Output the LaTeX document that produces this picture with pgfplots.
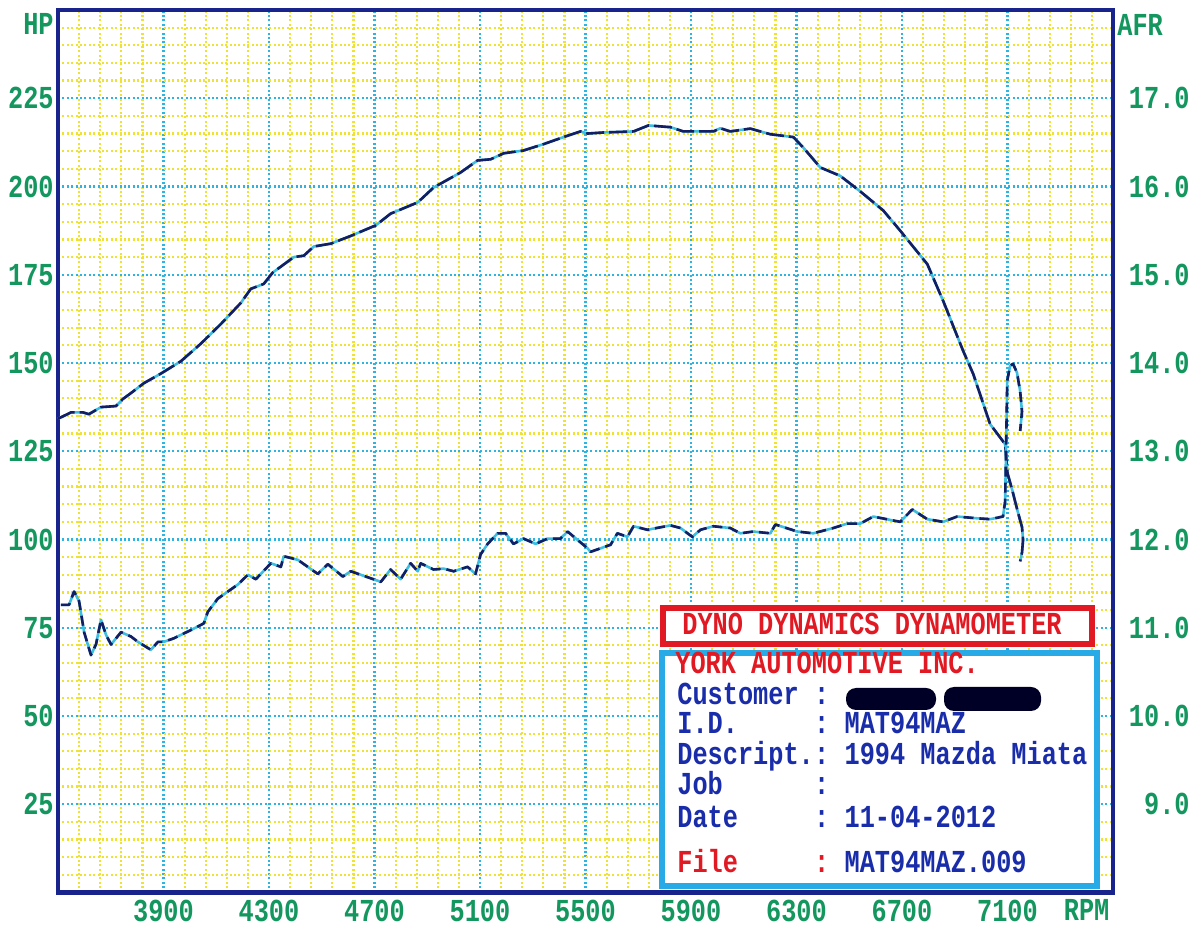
\documentclass[border=0pt]{standalone}
\usepackage{pgfplots}
\usepackage{pgfplotstable}
\pgfplotsset{compat=1.18}
\usepackage{fontspec}
\newfontfamily\dynofont[FakeStretch=0.79]{Liberation Mono}
\newcommand\dyno{\dynofont\bfseries\fontsize{16bp}{19bp}\selectfont}
\definecolor{labgreen}{RGB}{20,150,95}
\definecolor{framenavy}{RGB}{25,35,140}
\definecolor{gridcyan}{RGB}{45,180,225}
\definecolor{gridyellow}{RGB}{240,226,50}
\definecolor{curvenavy}{RGB}{20,30,100}
\definecolor{curvecyan}{RGB}{60,190,225}
\definecolor{boxred}{RGB}{225,25,35}
\definecolor{boxcyan}{RGB}{40,170,230}
\definecolor{textblue}{RGB}{25,45,170}

\pgfplotstableread{
rpm hp
3500 134.2
3549 136.0
3595 136.0
3617 135.5
3663 137.5
3720 137.8
3746 139.8
3777 141.5
3826 144.3
3890 147.0
3966 150.5
4042 155.5
4117 161.0
4193 167.0
4231 171.0
4280 172.4
4314 175.6
4394 180.0
4432 180.4
4470 183.0
4534 183.8
4610 186.0
4705 189.0
4761 192.3
4864 195.5
4924 199.7
5027 204.0
5091 207.4
5140 207.7
5190 209.4
5265 210.2
5341 212.0
5417 214.0
5481 215.6
5508 215.0
5568 215.3
5682 215.6
5739 217.3
5822 216.8
5871 215.6
5985 215.6
6011 216.5
6049 215.6
6125 216.4
6201 214.8
6288 214.0
6326 211.0
6390 205.4
6466 203.0
6542 198.6
6629 193.2
6693 187.5
6796 178.0
6856 167.6
6932 153.4
6970 146.9
7034 132.7
7091 127.0
7100 118.8
7118 114.0
7137 108.4
7155 103.5
7159 99.9
7155 96.3
7148 93.8
}\hpdata

\pgfplotstableread{
rpm afr
3511 11.26
3542 11.26
3561 11.41
3580 11.30
3599 10.95
3625 10.69
3644 10.81
3663 11.09
3682 10.92
3701 10.81
3739 10.95
3777 10.90
3803 10.84
3852 10.75
3879 10.84
3901 10.84
3939 10.88
4015 10.99
4053 11.05
4068 11.18
4106 11.33
4182 11.49
4220 11.60
4250 11.55
4307 11.73
4345 11.69
4356 11.81
4409 11.77
4485 11.61
4523 11.72
4580 11.58
4610 11.64
4724 11.52
4761 11.66
4799 11.55
4837 11.73
4864 11.64
4875 11.73
4924 11.66
4962 11.67
5000 11.64
5053 11.69
5083 11.61
5102 11.83
5129 11.95
5167 12.07
5197 12.07
5227 11.95
5265 12.01
5311 11.95
5356 12.01
5405 12.01
5432 12.09
5508 11.90
5519 11.86
5595 11.94
5621 12.07
5659 12.03
5682 12.15
5735 12.11
5822 12.16
5860 12.13
5905 12.03
5936 12.11
5985 12.15
6049 12.13
6087 12.07
6136 12.09
6201 12.07
6220 12.17
6303 12.09
6364 12.07
6440 12.13
6492 12.18
6542 12.18
6591 12.26
6693 12.20
6739 12.34
6796 12.23
6856 12.20
6909 12.26
6985 12.24
7034 12.23
7083 12.26
7091 12.43
7095 13.10
7099 13.80
7110 13.97
7121 13.99
7136 13.89
7148 13.68
7155 13.45
7148 13.23
}\afrdata

\begin{document}
\begin{tikzpicture}
\begin{axis}[
  at={(0,0)}, anchor=south west,
  scale only axis, width=527.5bp, height=441.25bp,
  xmin=3500, xmax=7500, ymin=0, ymax=250,
  clip=false,
  xtick={3900,4300,4700,5100,5500,5900,6300,6700,7100},
  xticklabels={3900,4300,4700,5100,5500,5900,6300,6700,7100},
  ytick={25,50,75,100,125,150,175,200,225},
  yticklabels={25,50,75,100,125,150,175,200,225},
  minor xtick={3580,3660,...,7420},
  minor ytick={5,10,...,245},
  grid=both,
  minor grid style={draw=gridyellow, line width=1.1bp, dash pattern=on 1bp off 1.2bp},
  major grid style={draw=gridcyan, line width=1.1bp, dash pattern=on 1bp off 1.2bp},
  major tick length=0pt, minor tick length=0pt,
  tick style={draw=none},
  axis line style={draw=framenavy, line width=2.3bp},
  ticklabel style={font=\dyno, text=labgreen, inner sep=0pt},
  yticklabel style={anchor=east, xshift=-2bp},
  xticklabel style={anchor=north, yshift=-3.5bp},
]
\addplot[curvecyan, line width=1.3bp, line join=round] table[x=rpm, y=hp] {\hpdata};
\addplot[curvenavy, line width=1.3bp, line join=round, dash pattern=on 9bp off 2.5bp] table[x=rpm, y=hp] {\hpdata};
\node[anchor=east, inner sep=0pt, xshift=-2bp, font=\dyno, text=labgreen] at (rel axis cs:0,0.9847) {HP};
\node[anchor=west, inner sep=0pt, xshift=2bp, font=\dyno, text=labgreen] at (rel axis cs:1,0.9835) {AFR};
\node[anchor=north, inner sep=0pt, yshift=-3.5bp, font=\dyno, text=labgreen] at (axis cs:7400,0) {RPM};
\end{axis}
\begin{axis}[
  at={(0,0)}, anchor=south west,
  scale only axis, width=527.5bp, height=441.25bp,
  xmin=3500, xmax=7500, ymin=8, ymax=18,
  clip=false,
  axis y line*=right, hide x axis,
  axis line style={draw=none},
  ytick={9,10,11,12,13,14,15,16,17},
  yticklabels={9.0,10.0,11.0,12.0,13.0,14.0,15.0,16.0,17.0},
  major tick length=0pt, tick style={draw=none},
  ticklabel style={font=\dyno, text=labgreen, inner sep=0pt},
  yticklabel style={anchor=east, xshift=38.5bp},
]
\addplot[curvecyan, line width=1.3bp, line join=round] table[x=rpm, y=afr] {\afrdata};
\addplot[curvenavy, line width=1.3bp, line join=round, dash pattern=on 5bp off 3bp] table[x=rpm, y=afr] {\afrdata};
\end{axis}
% info boxes
\draw[boxred, line width=2.8bp, fill=white] (302.5bp,124.25bp) rectangle (517bp,142.25bp);
\node[anchor=base west, inner sep=0pt, font=\dyno, text=boxred] at (312bp,128.75bp) {DYNO DYNAMICS DYNAMOMETER};
\draw[boxcyan, line width=3bp, fill=white] (302bp,3.25bp) rectangle (519.5bp,119.75bp);
\node[anchor=base west, inner sep=0pt, font=\dyno, text=boxred] at (308.5bp,109.25bp) {YORK AUTOMOTIVE INC.};
\foreach \lab/\yy in {Customer/93.75, I.D./79.25, Descript./63.75, Job/48.75, Date/32.75}{
  \node[anchor=base west, inner sep=0pt, font=\dyno, text=textblue] at (309.5bp,\yy bp) {\lab};
  \node[anchor=base west, inner sep=0pt, font=\dyno, text=textblue] at (377.9bp,\yy bp) {:};
}
\node[anchor=base west, inner sep=0pt, font=\dyno, text=boxred] at (309.5bp,10.25bp) {File};
\node[anchor=base west, inner sep=0pt, font=\dyno, text=boxred] at (377.9bp,10.25bp) {:};
\node[anchor=base west, inner sep=0pt, font=\dyno, text=textblue] at (393.1bp,79.25bp) {MAT94MAZ};
\node[anchor=base west, inner sep=0pt, font=\dyno, text=textblue] at (393.1bp,63.75bp) {1994 Mazda Miata};
\node[anchor=base west, inner sep=0pt, font=\dyno, text=textblue] at (393.1bp,32.75bp) {11-04-2012};
\node[anchor=base west, inner sep=0pt, font=\dyno, text=textblue] at (393.1bp,10.25bp) {MAT94MAZ.009};
% redacted customer name
\fill[black!85!blue, rounded corners=5bp] (394bp,91.25bp) rectangle (439bp,102.25bp);
\fill[black!85!blue, rounded corners=5bp] (443bp,90.75bp) rectangle (491.5bp,102.75bp);
\pgfresetboundingbox
\path[use as bounding box] (-29bp,-17.75bp) rectangle (571bp,446.25bp);
\end{tikzpicture}
\end{document}
